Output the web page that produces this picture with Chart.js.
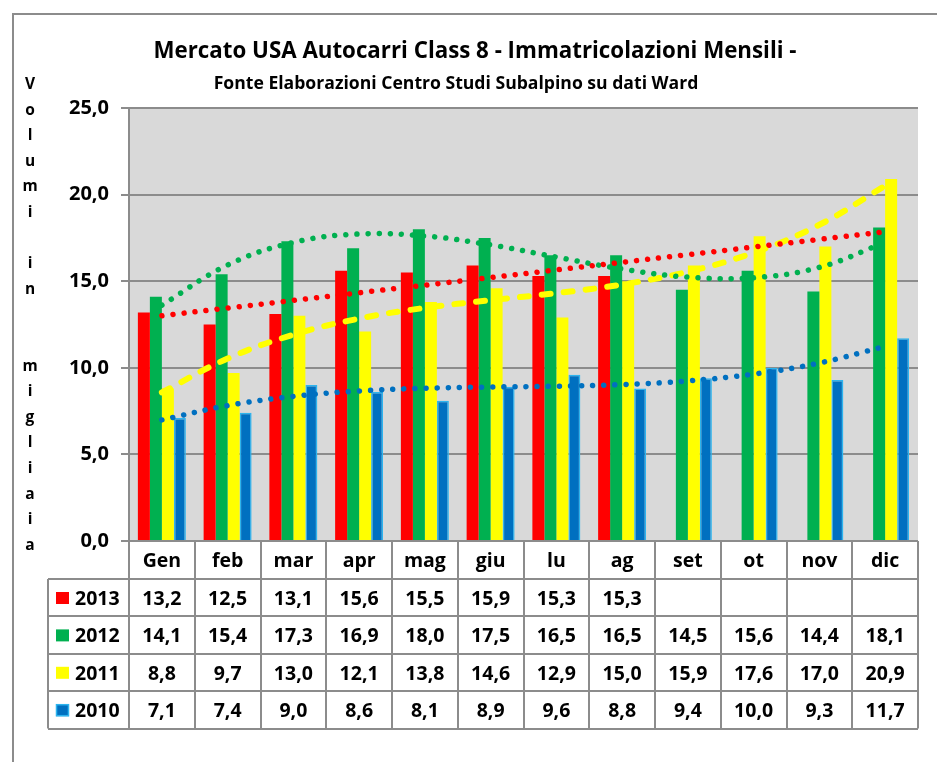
<!DOCTYPE html>
<html>
<head>
<meta charset="utf-8">
<script src="https://cdn.jsdelivr.net/npm/chart.js@4.4.0/dist/chart.umd.min.js"></script>
<style>
  html, body { margin: 0; padding: 0; background: #ffffff; }
  canvas { display: block; }
</style>
</head>
<body>
<canvas id="grafico" width="937" height="762"></canvas>
<script>
// Dati (migliaia di veicoli)
const MESI = ['Gen', 'feb', 'mar', 'apr', 'mag', 'giu', 'lu', 'ag', 'set', 'ot', 'nov', 'dic'];
const ANNI = ['2013', '2012', '2011', '2010'];
const V2013 = [13.2, 12.5, 13.1, 15.6, 15.5, 15.9, 15.3, 15.3, null, null, null, null];
const V2012 = [14.1, 15.4, 17.3, 16.9, 18.0, 17.5, 16.5, 16.5, 14.5, 15.6, 14.4, 18.1];
const V2011 = [8.8, 9.7, 13.0, 12.1, 13.8, 14.6, 12.9, 15.0, 15.9, 17.6, 17.0, 20.9];
const V2010 = [7.1, 7.4, 9.0, 8.6, 8.1, 8.9, 9.6, 8.8, 9.4, 10.0, 9.3, 11.7];
const Y_TICKS = [0, 5, 10, 15, 20, 25];
// grado del polinomio di tendenza per ogni anno (1 = lineare)
const GRADO_TREND = [1, 3, 3, 3];

const TITOLO = 'Mercato USA Autocarri Class 8 - Immatricolazioni Mensili -';
const SOTTOTITOLO = 'Fonte Elaborazioni Centro Studi Subalpino su dati Ward';
const TITOLO_Y = 'Volumi in  migliaia';

// Colori stile Excel
const COLORI = ['#ff0000', '#00b050', '#ffff00', '#0070c0'];
const BORDO_BLU = '#2db4ee';
const GRIGIO = '#8c8c8c';
const SFONDO_PLOT = '#d9d9d9';
const FONT = "'Open Sans', 'Liberation Sans', sans-serif";

const SERIE = [V2013, V2012, V2011, V2010];

const fmt = v => (v === null || v === undefined) ? '' : v.toFixed(1).replace('.', ',');

// Regressione polinomiale ai minimi quadrati (x = 1..n), come le linee di tendenza Excel
function polyfit(ys, grado) {
    const pts = ys.map((y, i) => [i + 1, y]).filter(p => p[1] !== null);
    const n = grado + 1;
    const A = [];
    for (let r = 0; r < n; r++) {
        const row = [];
        for (let c = 0; c < n; c++) {
            row.push(pts.reduce((s, p) => s + Math.pow(p[0], r + c), 0));
        }
        row.push(pts.reduce((s, p) => s + Math.pow(p[0], r) * p[1], 0));
        A.push(row);
    }
    for (let i = 0; i < n; i++) {
        let max = i;
        for (let k = i + 1; k < n; k++) if (Math.abs(A[k][i]) > Math.abs(A[max][i])) max = k;
        [A[i], A[max]] = [A[max], A[i]];
        for (let k = i + 1; k < n; k++) {
            const f = A[k][i] / A[i][i];
            for (let j = i; j <= n; j++) A[k][j] -= f * A[i][j];
        }
    }
    const coef = new Array(n).fill(0);
    for (let i = n - 1; i >= 0; i--) {
        let s = A[i][n];
        for (let j = i + 1; j < n; j++) s -= A[i][j] * coef[j];
        coef[i] = s / A[i][i];
    }
    return x => coef.reduce((s, c, k) => s + c * Math.pow(x, k), 0);
}

const trend = SERIE.map((ys, i) => {
    const f = polyfit(ys, GRADO_TREND[i]);
    return MESI.map((m, k) => f(k + 1));
});

const barDatasets = SERIE.map((ys, i) => ({
    type: 'bar',
    label: ANNI[i],
    data: ys,
    backgroundColor: COLORI[i],
    borderColor: i === 3 ? BORDO_BLU : COLORI[i],
    borderWidth: i === 3 ? 1.5 : 0,
    categoryPercentage: 0.73,
    barPercentage: 1.0,
    order: 2
}));

const stileTrend = [
    { borderDash: [0.01, 11.1], borderWidth: 5.5 },
    { borderDash: [0.01, 11.1], borderWidth: 5.5 },
    { borderDash: [9, 13], borderWidth: 6 },
    { borderDash: [0.01, 11.1], borderWidth: 5.5 }
];

const lineDatasets = trend.map((t, i) => ({
    type: 'line',
    label: 'Tendenza ' + ANNI[i],
    data: t,
    borderColor: COLORI[i],
    borderWidth: stileTrend[i].borderWidth,
    borderDash: stileTrend[i].borderDash,
    borderCapStyle: 'round',
    pointRadius: 0,
    tension: 0.4,
    fill: false,
    order: 1
}));

// Sfondo, cornice, titoli e tabella dati
const decorazioni = {
    id: 'decorazioni',
    beforeDraw(chart) {
        const { ctx, chartArea: a } = chart;
        ctx.save();
        ctx.fillStyle = SFONDO_PLOT;
        ctx.fillRect(a.left, a.top, a.right - a.left, a.bottom - a.top);
        ctx.strokeStyle = GRIGIO;
        ctx.lineWidth = 2;
        ctx.strokeRect(13, 14, 1000, 1000);
        ctx.restore();
    },
    afterDraw(chart) {
        const { ctx, chartArea: a } = chart;
        ctx.save();
        ctx.fillStyle = '#000';
        ctx.textAlign = 'center';
        ctx.textBaseline = 'alphabetic';
        ctx.font = 'bold 22.3px ' + FONT;
        ctx.fillText(TITOLO, 475, 58);
        ctx.font = 'bold 17.6px ' + FONT;
        ctx.fillText(SOTTOTITOLO, 456, 89);

        // titolo asse Y, lettere impilate
        ctx.font = 'bold 15.5px ' + FONT;
        TITOLO_Y.split('').forEach((ch, i) => {
            if (ch !== ' ') ctx.fillText(ch, 30, 89 + i * 25.6);
        });

        // tabella dati
        const colW = (a.right - a.left) / MESI.length;
        const top = a.bottom;
        const headH = 38;
        const rowH = 37.4;
        const keyLeft = 48;
        const bottom = top + headH + rowH * ANNI.length;

        ctx.strokeStyle = GRIGIO;
        ctx.lineWidth = 2;
        ctx.beginPath();
        for (let k = 0; k <= MESI.length; k++) {
            const x = Math.round(a.left + k * colW);
            ctx.moveTo(x, top);
            ctx.lineTo(x, bottom);
        }
        ctx.moveTo(keyLeft, top + headH);
        ctx.lineTo(keyLeft, bottom);
        for (let r = 0; r <= ANNI.length; r++) {
            const y = Math.round(top + headH + r * rowH);
            ctx.moveTo(keyLeft, y);
            ctx.lineTo(a.right, y);
        }
        ctx.stroke();

        ctx.font = 'bold 19.5px ' + FONT;
        ctx.fillStyle = '#000';
        ctx.textAlign = 'center';
        MESI.forEach((m, k) => {
            ctx.fillText(m, chart.scales.x.getPixelForValue(k), top + 26);
        });
        ANNI.forEach((anno, r) => {
            const rowTop = top + headH + r * rowH;
            // chiave legenda
            ctx.fillStyle = COLORI[r];
            ctx.fillRect(56, rowTop + 13, 13, 12);
            if (r === 3) {
                ctx.strokeStyle = BORDO_BLU;
                ctx.lineWidth = 1.5;
                ctx.strokeRect(56.5, rowTop + 13.5, 12, 11);
            }
            ctx.fillStyle = '#000';
            ctx.textAlign = 'left';
            ctx.fillText(anno, 75, rowTop + 26);
            ctx.textAlign = 'center';
            SERIE[r].forEach((v, k) => {
                ctx.fillText(fmt(v), chart.scales.x.getPixelForValue(k), rowTop + 26);
            });
        });
        ctx.restore();
    }
};

Chart.defaults.font.family = FONT;
Chart.defaults.color = '#000';

new Chart(document.getElementById('grafico'), {
    data: {
        labels: MESI,
        datasets: [...barDatasets, ...lineDatasets]
    },
    options: {
        responsive: false,
        animation: false,
        layout: { padding: { left: 20, right: 19, top: 108, bottom: 221 } },
        plugins: {
            legend: { display: false },
            title: { display: false },
            tooltip: { enabled: false }
        },
        scales: {
            x: {
                display: false,
                offset: true
            },
            y: {
                min: 0,
                max: 25,
                afterBuildTicks: scale => { scale.ticks = Y_TICKS.map(v => ({ value: v })); },
                afterFit: scale => { scale.width = 109; },
                grid: { color: GRIGIO, lineWidth: 2, tickLength: 8, drawTicks: true },
                border: { display: true, color: GRIGIO, width: 2 },
                ticks: {
                    padding: 12,
                    color: '#000',
                    font: { size: 20, weight: 'bold' },
                    callback: v => fmt(v)
                }
            }
        }
    },
    plugins: [decorazioni]
});
</script>
</body>
</html>
